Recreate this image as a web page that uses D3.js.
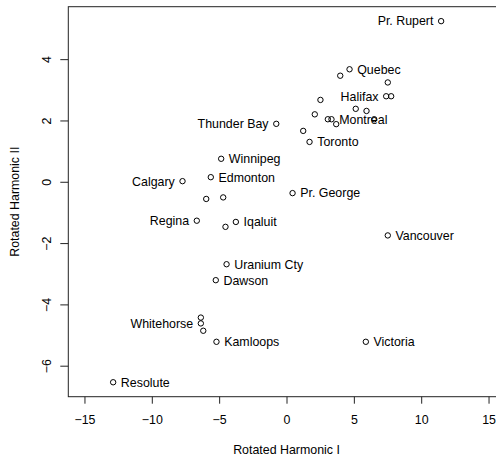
<!DOCTYPE html>
<html>
<head>
<meta charset="utf-8">
<script src="https://cdn.jsdelivr.net/npm/d3@7"></script>
<style>
  html, body { margin: 0; padding: 0; background: #fff; }
  svg { display: block; }
  text { font-family: "Liberation Sans", Arial, Helvetica, sans-serif; fill: #000; }
</style>
</head>
<body>
<svg id="chart" width="496" height="460"></svg>
<script>
// Rotated harmonic scores for 35 Canadian weather stations
const stations = [
  "Pr. Rupert", "Quebec", "", "", "Halifax", "", "", "", "", "",
  "", "Montreal", "", "", "Thunder Bay", "", "Toronto", "Winnipeg", "Calgary", "Edmonton",
  "", "", "Pr. George", "Regina", "", "Iqaluit", "Vancouver", "Uranium Cty", "Dawson", "",
  "Whitehorse", "", "Kamloops", "Victoria", "Resolute"
];
const harmonicI = [
  11.48, 4.68, 3.99, 7.52, 7.40, 7.77, 2.52, 5.14, 5.94, 2.10,
  3.07, 3.34, 3.69, 6.51, -0.76, 1.24, 1.71, -4.85, -7.72, -5.62,
  -5.96, -4.70, 0.45, -6.66, -4.53, -3.76, 7.52, -4.45, -5.25, -6.36,
  -6.36, -6.18, -5.20, 5.89, -12.87
];
const harmonicII = [
  5.24, 3.67, 3.46, 3.24, 2.79, 2.79, 2.67, 2.38, 2.31, 2.20,
  2.04, 2.04, 1.88, 2.04, 1.89, 1.66, 1.30, 0.75, 0.02, 0.15,
  -0.56, -0.51, -0.37, -1.27, -1.47, -1.31, -1.75, -2.69, -3.21, -4.43,
  -4.62, -4.86, -5.22, -5.22, -6.54
];
// labels placed to the left of their point
const leftLabels = ["Pr. Rupert", "Halifax", "Thunder Bay", "Calgary", "Regina", "Whitehorse"];
const xTicks = [-15, -10, -5, 0, 5, 10, 15];
const yTicks = [-6, -4, -2, 0, 2, 4];
const xLabel = "Rotated Harmonic I";
const yLabel = "Rotated Harmonic II";

const svg = d3.select("#chart");
const fontSize = 12.4;

// plot region (R-style 4% axis extension)
const plotLeft = 68.3, plotTop = 6.7, plotBottom = 396.7, plotRight = 504.7;
const xLim = [-15, 15];
const xPad = 0.04 * (xLim[1] - xLim[0]);
const yExt = d3.extent(harmonicII);
const yPad = 0.04 * (yExt[1] - yExt[0]);

const x = d3.scaleLinear().domain([xLim[0] - xPad, xLim[1] + xPad]).range([plotLeft, plotRight]);
const y = d3.scaleLinear().domain([yExt[0] - yPad, yExt[1] + yPad]).range([plotBottom, plotTop]);

const fmt = d3.format("d");
const fontFamily = '"Liberation Sans", Arial, sans-serif';

// x axis
const xAxis = svg.append("g")
  .attr("transform", `translate(0,${plotBottom})`)
  .call(d3.axisBottom(x).tickValues(xTicks).tickSize(7).tickPadding(12).tickFormat(fmt));
xAxis.select(".domain").remove();
xAxis.selectAll("line").attr("stroke", "#222");
xAxis.selectAll("text").style("font-size", fontSize + "px")
  .style("font-family", fontFamily).attr("fill", "#000");

// y axis with rotated tick labels
const yAxis = svg.append("g")
  .attr("transform", `translate(${plotLeft},0)`)
  .call(d3.axisLeft(y).tickValues(yTicks).tickSize(8).tickFormat(fmt));
yAxis.select(".domain").remove();
yAxis.selectAll("line").attr("stroke", "#222");
yAxis.selectAll("text")
  .attr("x", null)
  .attr("text-anchor", "middle")
  .attr("transform", "translate(-21.6,0) rotate(-90)")
  .attr("dy", "0.35em")
  .attr("fill", "#000")
  .style("font-size", fontSize + "px")
  .style("font-family", fontFamily);

// plot box
svg.append("rect")
  .attr("x", plotLeft).attr("y", plotTop)
  .attr("width", plotRight - plotLeft).attr("height", plotBottom - plotTop)
  .attr("fill", "none").attr("stroke", "#222").attr("stroke-width", 1);

// axis titles
svg.append("text")
  .attr("x", (plotLeft + plotRight) / 2).attr("y", 450).attr("dy", "0.35em")
  .attr("text-anchor", "middle").style("font-size", fontSize + "px")
  .text(xLabel);
svg.append("text")
  .attr("transform", `translate(15,${(plotTop + plotBottom) / 2}) rotate(-90)`)
  .attr("dy", "0.35em")
  .attr("text-anchor", "middle").style("font-size", fontSize + "px")
  .text(yLabel);

// points
const data = stations.map((s, i) => ({ name: s, h1: harmonicI[i], h2: harmonicII[i] }));

svg.append("g").selectAll("circle")
  .data(data)
  .join("circle")
  .attr("cx", d => x(d.h1))
  .attr("cy", d => y(d.h2))
  .attr("r", 2.7)
  .attr("fill", "none")
  .attr("stroke", "#000")
  .attr("stroke-width", 1);

// station labels
svg.append("g").selectAll("text")
  .data(data.filter(d => d.name))
  .join("text")
  .attr("x", d => x(d.h1) + (leftLabels.includes(d.name) ? -7.7 : 7.7))
  .attr("y", d => y(d.h2))
  .attr("dy", "0.35em")
  .attr("text-anchor", d => leftLabels.includes(d.name) ? "end" : "start")
  .style("font-size", fontSize + "px")
  .text(d => d.name);
</script>
</body>
</html>
